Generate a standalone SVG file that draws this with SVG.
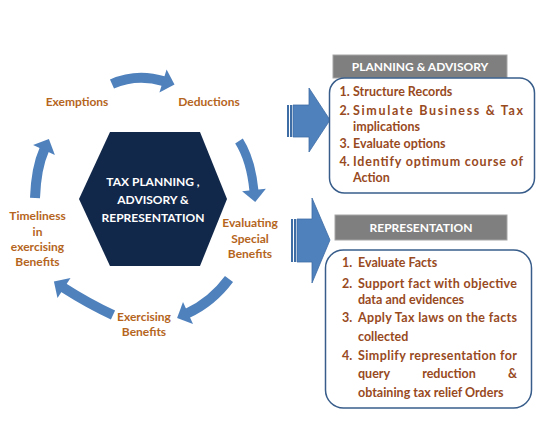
<svg xmlns="http://www.w3.org/2000/svg" width="559" height="438" viewBox="0 0 559 438">
<style>
.lbl{font-family:Lato,"Liberation Sans",sans-serif;font-weight:bold;font-size:12px;fill:#B5651D;text-anchor:middle}
.hex{font-family:Lato,"Liberation Sans",sans-serif;font-weight:bold;font-size:12px;fill:#ffffff;text-anchor:middle}
.hdr{font-family:Lato,"Liberation Sans",sans-serif;font-weight:bold;font-size:12px;fill:#ffffff;text-anchor:middle}
.li{font-family:Lato,"Liberation Sans",sans-serif;font-weight:bold;font-size:12.5px;fill:#984A1E}
.arc{fill:none;stroke:#4F81BD;stroke-width:10;stroke-linecap:butt}
.head{fill:#4F81BD}
.big{fill:#4F81BD;stroke:#3E6CA5;stroke-width:0.8}
.stripe{fill:#3E6CA5}
.box{fill:#ffffff;stroke:#385D8A;stroke-width:1.5}
.gray{fill:#7F7F7F;stroke:#A6A6A6;stroke-width:1}
</style>
<rect width="559" height="438" fill="#ffffff"/>

<g id="connectors">
  <path class="arc" d="M112,84 Q137,73 164,81.3"/>
  <polygon class="head" points="166.6,69.5 174.5,84.6 159.4,92.5"/>
  <path class="arc" style="stroke-width:9" d="M239,141 Q251,160 254,191"/>
  <polygon class="head" points="265.9,188.8 255.2,202 242.1,191.2"/>
  <path class="arc" d="M229,279 Q212,302 187,313.5"/>
  <polygon class="head" points="193,323.9 177.1,318 183,302.1"/>
  <path class="arc" d="M113,315 Q89,304 63,287.4"/>
  <polygon class="head" points="70.5,277.9 53.9,281.5 57.5,298.1"/>
  <path class="arc" d="M35,198 Q36,168 44.5,149"/>
  <polygon class="head" points="54.9,154.9 48.9,139.1 33.1,145.1"/>
  <g id="bigArrow1">
    <rect class="stripe" x="287" y="105" width="2" height="32"/>
    <rect class="stripe" x="290" y="105" width="2" height="32"/>
    <polygon class="big" points="293,105 309,105 309,88 330,120 309,152 309,137 293,137"/>
  </g>
  <g id="bigArrow2">
    <rect class="stripe" x="291" y="219" width="2" height="43"/>
    <rect class="stripe" x="294" y="219" width="2" height="43"/>
    <polygon class="big" points="297,219 312,219 312,198 330,240 312,283 312,262 297,262"/>
  </g>
</g>

<g id="center">
  <polygon points="79,199 110,132 200,132 227,199 200,266 110,266" fill="#12284A"/>
  <text class="hex" x="153" y="186">TAX PLANNING ,</text>
  <text class="hex" x="153" y="204">ADVISORY &amp;</text>
  <text class="hex" x="153" y="222">REPRESENTATION</text>
</g>

<g id="exemptions"><text class="lbl" x="77" y="106">Exemptions</text></g>
<g id="deductions"><text class="lbl" x="209" y="106">Deductions</text></g>
<g id="evaluating">
  <text class="lbl" x="250" y="227">Evaluating</text>
  <text class="lbl" x="250" y="243">Special</text>
  <text class="lbl" x="250" y="258">Benefits</text>
</g>
<g id="exercising">
  <text class="lbl" x="144" y="321">Exercising</text>
  <text class="lbl" x="144" y="336">Benefits</text>
</g>
<g id="timeliness">
  <text class="lbl" x="37.5" y="220">Timeliness</text>
  <text class="lbl" x="37.5" y="236">in</text>
  <text class="lbl" x="37.5" y="251">exercising</text>
  <text class="lbl" x="37.5" y="266">Benefits</text>
</g>

<g id="planning">
  <rect class="gray" x="333" y="55" width="174" height="23"/>
  <text class="hdr" x="420" y="71">PLANNING &amp; ADVISORY</text>
  <rect class="box" x="329.5" y="78" width="205" height="115" rx="15"/>
  <text class="li" x="339.5" y="96">1.</text><text class="li" x="353" y="96">Structure Records</text>
  <text class="li" x="339.5" y="115">2.</text><text class="li" x="353" y="115" textLength="170" lengthAdjust="spacing">Simulate Business &amp; Tax</text>
  <text class="li" x="353" y="131">implications</text>
  <text class="li" x="339.5" y="148">3.</text><text class="li" x="353" y="148">Evaluate options</text>
  <text class="li" x="339.5" y="166">4.</text><text class="li" x="353" y="166" textLength="170" lengthAdjust="spacing">Identify optimum course of</text>
  <text class="li" x="353" y="182">Action</text>
</g>

<g id="representation">
  <rect class="gray" x="335" y="215" width="172" height="25"/>
  <text class="hdr" x="421" y="232">REPRESENTATION</text>
  <rect class="box" x="325.5" y="250" width="206" height="158" rx="18"/>
  <text class="li" x="342" y="267">1.</text><text class="li" x="358" y="267">Evaluate Facts</text>
  <text class="li" x="342" y="288">2.</text><text class="li" x="358" y="288" textLength="159" lengthAdjust="spacing">Support fact with objective</text>
  <text class="li" x="358" y="304">data and evidences</text>
  <text class="li" x="342" y="322">3.</text><text class="li" x="358" y="322" textLength="159" lengthAdjust="spacing">Apply Tax laws on the facts</text>
  <text class="li" x="358" y="341">collected</text>
  <text class="li" x="342" y="360">4.</text><text class="li" x="358" y="360" textLength="159" lengthAdjust="spacing">Simplify representation for</text>
  <text class="li" x="358" y="378">query</text><text class="li" x="449" y="378" text-anchor="middle">reduction</text><text class="li" x="517" y="378" text-anchor="end">&amp;</text>
  <text class="li" x="358" y="397">obtaining tax relief Orders</text>
</g>
</svg>
